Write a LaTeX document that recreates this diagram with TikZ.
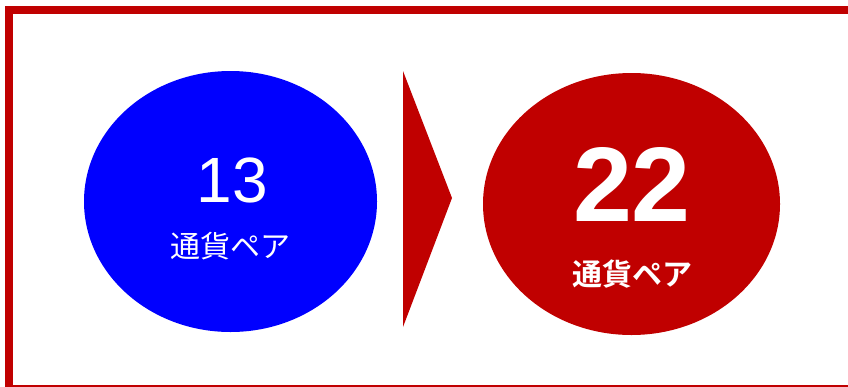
\documentclass[tikz,border=0pt]{standalone}
\usepackage{fontspec}
\setmainfont{Liberation Sans}
\newfontfamily\jpfont{Noto Sans CJK JP}
\newfontfamily\jpbold{Noto Sans CJK JP Bold}
\usetikzlibrary{shapes.geometric}
\definecolor{myred}{HTML}{C00000}
\definecolor{myblue}{HTML}{0000FF}
\tikzset{
  blob/.style={ellipse, inner sep=0pt, draw=none},
  wtext/.style={text=white, inner sep=0pt, anchor=center},
}
\begin{document}
\begin{tikzpicture}[x=1pt,y=-1pt]
\useasboundingbox (0,0) rectangle (848,386);
\begin{scope}
\clip (0,0) rectangle (848,386);
\draw[myred, line width=8pt] (9,10) rectangle (870,388.5);
\end{scope}
\node[blob, fill=myblue, minimum width=293pt, minimum height=261pt] (left) at (230.5,201.5) {};
\node[blob, fill=myred, minimum width=297pt, minimum height=262pt] (right) at (631.5,204) {};
\coordinate (t1) at (403,71);
\coordinate (t2) at (452,198);
\coordinate (t3) at (403,327);
\fill[myred] (t1) -- (t2) -- (t3) -- cycle;
\node[wtext] (n13) at (232.5,180) {\fontsize{64}{64}\selectfont 13};
\node[wtext] (lbl1) at (230.5,246.5) {\jpfont\fontsize{30}{30}\selectfont 通貨ペア};
\node[wtext] (n22) at (632,184) {\fontsize{106}{106}\selectfont\bfseries 22};
\node[wtext] (lbl2) at (632,274.5) {\jpbold\fontsize{30}{30}\selectfont 通貨ペア};
\end{tikzpicture}
\end{document}
